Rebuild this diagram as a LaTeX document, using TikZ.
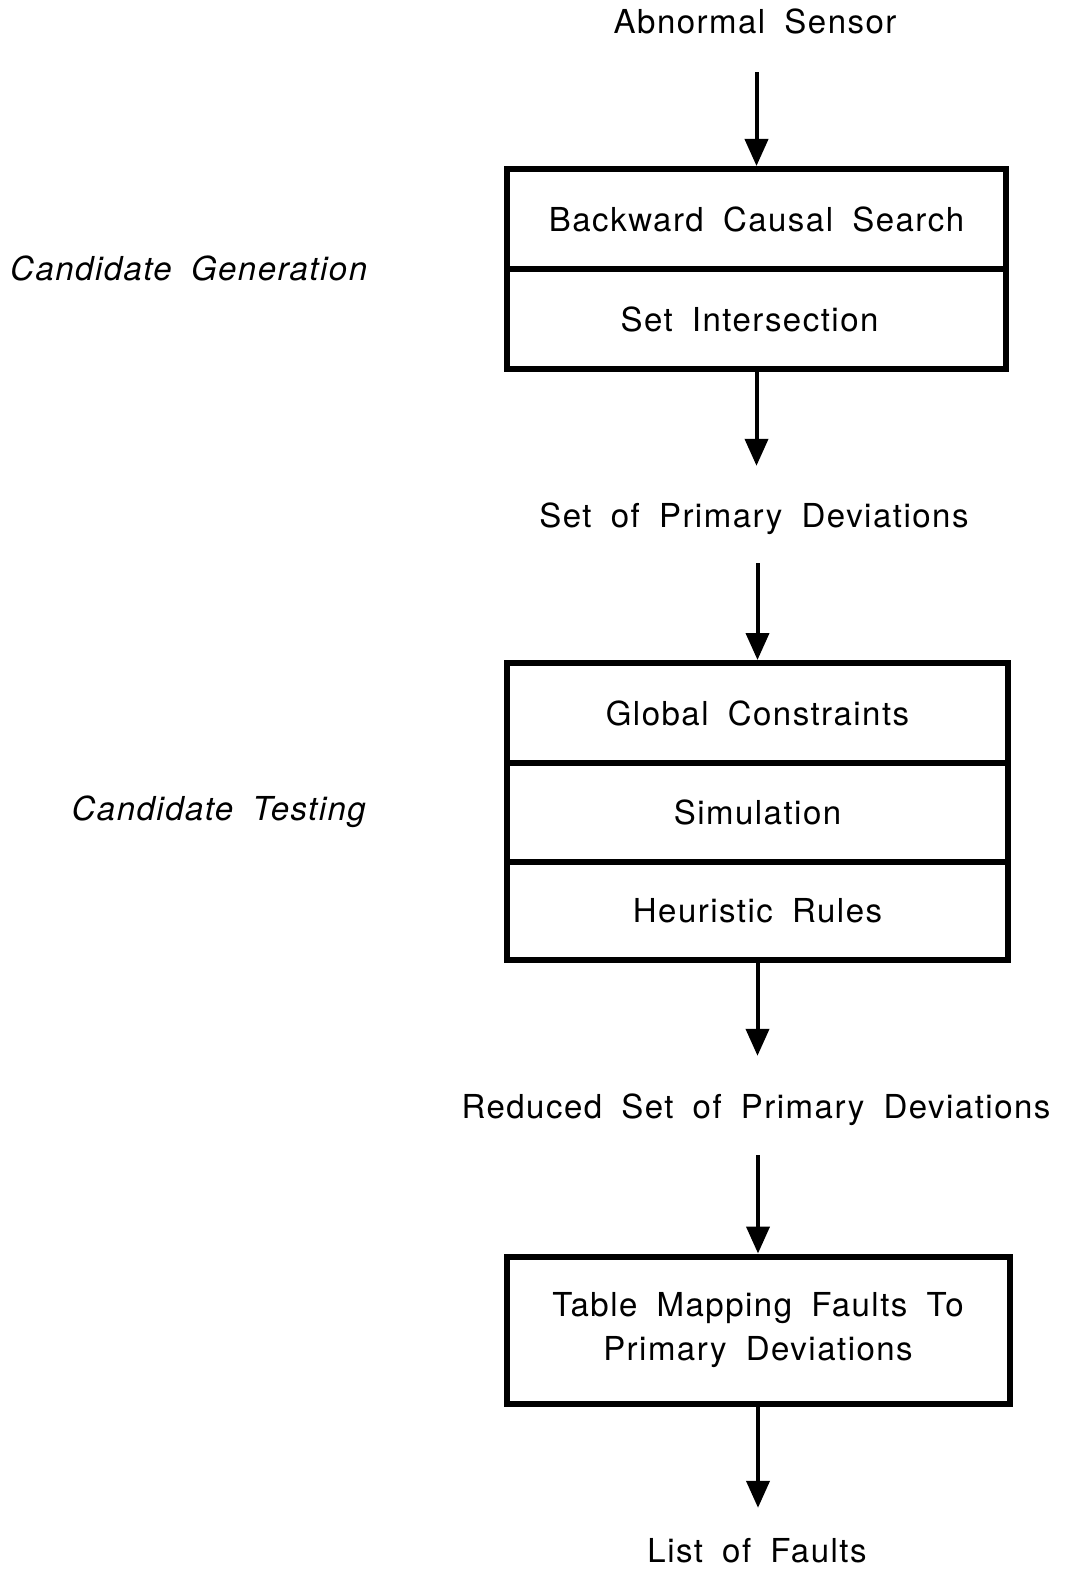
\documentclass[tikz,border=0pt]{standalone}
\usepackage{fontspec}
\setmainfont{TeX Gyre Heros}[LetterSpace=4.5,WordSpace=1.8]
\usetikzlibrary{arrows.meta}
\newcommand{\bodyfont}{\fontsize{33}{44}\selectfont}
\tikzset{
  cell/.style={draw, line width=6pt, minimum width=499pt, minimum height=100pt,
    inner sep=0pt, font=\bodyfont, align=center},
  lab/.style={font=\bodyfont, inner sep=0pt, text height=22pt, text depth=6pt},
  side/.style={lab, font=\bodyfont\itshape},
  flow/.style={line width=4pt, -{Triangle[length=27pt,width=23pt]}},
}
\begin{document}
\begin{tikzpicture}[x=1pt,y=-1pt]
  \useasboundingbox (0,0) rectangle (1066,1573);

  % inputs and outputs of each stage
  \node[lab] (sensor) at (755,26) {Abnormal Sensor};
  \node[lab] (primary) at (754,519) {Set of Primary Deviations};
  \node[lab] (reduced) at (756,1110) {Reduced Set of Primary Deviations};
  \node[lab] (faults) at (757,1554) {List of Faults};

  % candidate generation block
  \node[cell] (search) at (756.5,219) {Backward Causal Search};
  \node[cell] (inter) at (756.5,319) {\hspace*{-14pt}Set Intersection};

  % candidate testing block
  \node[cell, minimum width=501pt] (global) at (757.5,713) {Global Constraints};
  \node[cell, minimum width=501pt, minimum height=99pt] (sim) at (757.5,812.5) {Simulation};
  \node[cell, minimum width=501pt, minimum height=98pt] (heur) at (757.5,911) {Heuristic Rules};

  % fault table
  \node[cell, minimum width=503pt, minimum height=147pt] (table) at (758,1330)
    {Table Mapping Faults To\\Primary Deviations};

  % phase labels
  \node[side, anchor=west] (gen) at (10,272) {Candidate Generation};
  \node[side, anchor=east] (test) at (366,812) {Candidate Testing};

  % flow arrows
  \draw[flow, shorten <=32pt] (sensor.south -| search.north) -- (search.north);
  \draw[flow, shorten >=39pt] (inter.south) -- (inter.south |- primary.north);
  \draw[flow, shorten <=30pt] (primary.south -| global.north) -- (global.north);
  \draw[flow, shorten >=40pt] (heur.south) -- (heur.south |- reduced.north);
  \draw[flow, shorten <=31pt] (reduced.south -| table.north) -- (table.north);
  \draw[flow, shorten >=32pt] (table.south) -- (table.south |- faults.north);
\end{tikzpicture}
\end{document}
